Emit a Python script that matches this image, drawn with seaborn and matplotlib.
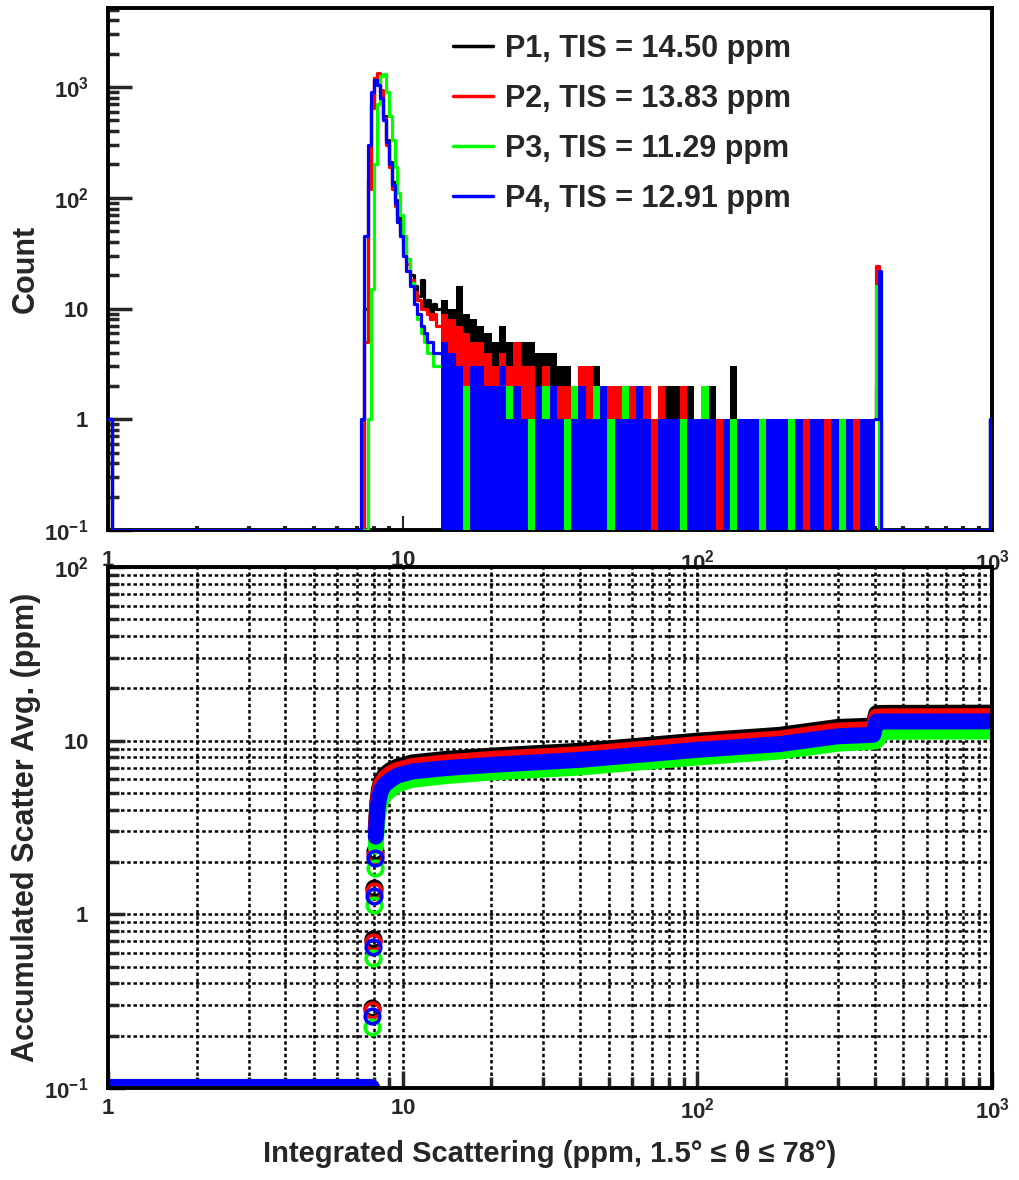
import numpy as np
import seaborn as sns
import matplotlib
matplotlib.use("Agg")
import matplotlib.pyplot as plt
from matplotlib.lines import Line2D
from matplotlib.ticker import FixedLocator, FuncFormatter, LogLocator, NullFormatter

sns.set_style("white")
plt.rcParams["font.family"] = ["Liberation Sans", "DejaVu Sans"]
plt.rcParams["font.weight"] = "bold"
plt.rcParams["mathtext.fontset"] = "custom"
plt.rcParams["mathtext.rm"] = "Liberation Sans:bold"
plt.rcParams["mathtext.bf"] = "Liberation Sans:bold"

# ---- data ----
names = ["P1", "P2", "P3", "P4"]
tis = [14.50, 13.83, 11.29, 12.91]
colors = ["#000000", "#ff0000", "#00ff00", "#0000ff"]

# top: counts per bin, peak region (bin edges in ppm)
peak_edges = [1.0, 1.03, 7.0, 7.2, 7.4, 7.6, 7.8, 8.0, 8.2, 8.4, 8.6, 8.8, 9.0, 9.2, 9.4,
              9.6, 9.8, 10.0, 10.3, 10.6, 10.9, 11.2, 11.5, 11.8, 12.1, 12.4, 12.7, 13.0, 13.5]
p1_peak = [1, 0, 0, 0, 10, 150, 700, 1200, 1300, 900, 550, 330, 210, 140, 95, 70, 50, 38,
           28, 20, 16, 13, 18, 10, 12, 9, 11, 10]
p2_peak = [1, 0, 0, 0, 5, 120, 650, 1200, 1350, 950, 520, 300, 190, 120, 85, 60, 45, 32,
           25, 18, 14, 12, 10, 10, 9, 8, 9, 7]
p3_peak = [1, 0, 0, 0, 0, 1, 15, 200, 700, 1250, 1300, 900, 550, 330, 190, 110, 70, 45,
           28, 17, 11, 8, 6, 5, 4, 4, 3, 3]
p4_peak = [1, 0, 0, 1, 45, 300, 900, 1150, 1050, 800, 500, 320, 200, 130, 90, 60, 45, 30,
           22, 16, 11, 9, 7, 6, 5, 5, 4, 4]

# top: sparse tail, 60 log-spaced bins from 13.5 to 400 ppm
tail_edges = np.geomspace(13.5, 400, 61)
p1_tail = [12, 10, 16, 9, 8, 7, 6, 5, 7, 5,
           4, 5, 5, 4, 4, 4, 3, 3, 2, 2,
           2, 3, 2, 2, 2, 2, 2, 2, 2, 1,
           2, 2, 2, 1, 2, 1, 2, 2, 1, 1,
           3, 1, 1, 1, 1, 1, 1, 1, 1, 1,
           1, 1, 1, 1, 1, 1, 1, 1, 1, 1]
p2_tail = [9, 8, 7, 6, 5, 5, 4, 3, 4, 3,
           5, 3, 3, 2, 3, 2, 2, 2, 2, 3,
           3, 2, 1, 2, 2, 1, 2, 2, 2, 1,
           2, 1, 1, 2, 1, 1, 1, 1, 1, 1,
           1, 1, 1, 1, 1, 1, 1, 1, 1, 1,
           1, 1, 1, 1, 1, 1, 1, 1, 1, 1]
p3_tail = [4, 3, 2, 2, 2, 2, 1, 2, 1, 2,
           1, 1, 1, 1, 2, 1, 1, 1, 2, 1,
           1, 2, 1, 1, 1, 2, 1, 1, 1, 0,
           1, 1, 1, 1, 1, 1, 2, 1, 0, 1,
           1, 1, 0, 1, 1, 1, 0, 1, 1, 1,
           0, 1, 1, 0, 1, 1, 1, 0, 1, 1]
p4_tail = [5, 4, 3, 0, 3, 3, 2, 2, 3, 1,
           2, 1, 0, 2, 1, 2, 1, 0, 1, 2,
           1, 1, 2, 0, 1, 1, 1, 2, 1, 0,
           1, 1, 1, 0, 1, 1, 1, 1, 0, 1,
           0, 1, 1, 1, 0, 1, 1, 1, 0, 1,
           0, 1, 1, 0, 1, 0, 1, 0, 1, 1]

# top: spike near 400 ppm and the overflow bin
end_edges = [400, 405, 412, 420, 985, 1000]
p1_end = [1, 2, 0, 0, 1]
p2_end = [1, 24, 1, 0, 1]
p3_end = [1, 16, 0, 0, 1]
p4_end = [1, 1, 22, 0, 1]

# bottom: accumulated scatter average (ppm)
acc_x = [7.85, 7.95, 8.0, 8.05, 8.1, 8.15, 8.2, 8.3, 8.45, 8.7, 9.1, 9.6, 10.8, 14, 20,
         40, 100, 190, 300, 395, 405, 430, 1000]
p1_acc = [0.29, 0.72, 1.42, 2.3, 3.1, 3.7, 4.4, 5.2, 5.9, 6.4, 6.8, 7.1, 7.5, 7.85, 8.2,
          8.75, 10.0, 10.8, 12.0, 12.2, 14.4, 14.45, 14.5]
p2_acc = [0.28, 0.69, 1.36, 2.2, 3.0, 3.55, 4.2, 5.0, 5.65, 6.1, 6.5, 6.8, 7.15, 7.5, 7.85,
          8.35, 9.55, 10.3, 11.45, 11.65, 13.75, 13.8, 13.83]
p3_acc = [0.225, 0.56, 1.13, 1.85, 2.45, 2.9, 3.4, 4.0, 4.5, 4.9, 5.2, 5.6, 5.95, 6.25, 6.55,
          7.0, 8.0, 8.65, 9.6, 9.85, 9.95, 11.25, 11.29]
p4_acc = [0.26, 0.65, 1.28, 2.1, 2.8, 3.3, 3.9, 4.6, 5.2, 5.6, 5.95, 6.3, 6.65, 6.95, 7.25,
          7.75, 8.85, 9.55, 10.6, 10.8, 12.85, 12.88, 12.91]
base_x = [1.0, 7.8]
base_acc = [0, 0]
n_knee = 4  # first points are separate circles

FLOOR = 0.1

fig = plt.figure(figsize=(10.2, 11.8), dpi=100)
ax1 = fig.add_axes([0.1059, 0.5508, 0.8667, 0.4424])
ax2 = fig.add_axes([0.1059, 0.0780, 0.8667, 0.4415])

# ---- top panel ----
hist = [(p1_peak, p1_tail, p1_end), (p2_peak, p2_tail, p2_end),
        (p3_peak, p3_tail, p3_end), (p4_peak, p4_tail, p4_end)]
for k, ((pk, tl, en), c) in enumerate(zip(hist, colors)):
    z = 2 + k
    y = np.maximum(np.append(pk, pk[-1]), FLOOR)
    sns.lineplot(x=peak_edges, y=y, drawstyle="steps-post", color=c, lw=2.3,
                 estimator=None, sort=False, ax=ax1, zorder=z)
    yt = np.maximum(np.append(tl, tl[-1]), FLOOR)
    ax1.fill_between(tail_edges, FLOOR, yt, step="post", color=c, lw=0, zorder=z)
    ye = np.maximum(np.append(en, en[-1]), FLOOR)
    sns.lineplot(x=end_edges, y=ye, drawstyle="steps-post", color=c, lw=2.3,
                 estimator=None, sort=False, ax=ax1, zorder=z)

handles = [Line2D([], [], color=c, lw=2.5) for c in colors]
labels = [f"{n}, TIS = {t:.2f} ppm" for n, t in zip(names, tis)]
ax1.legend(handles, labels, loc="upper left", bbox_to_anchor=(0.39, 0.95),
           frameon=False, prop={"weight": "bold", "size": 22}, handlelength=1.3,
           handletextpad=0.4, labelspacing=0.65, borderaxespad=0, borderpad=0)

# ---- bottom panel ----
accs = [p1_acc, p2_acc, p3_acc, p4_acc]
for k, (acc, c) in enumerate(zip(accs, colors)):
    z = 3 + k
    sns.lineplot(x=base_x, y=np.maximum(base_acc, FLOOR), color=c, lw=13,
                 estimator=None, ax=ax2, zorder=z)
    sns.lineplot(x=acc_x[n_knee:], y=acc[n_knee:], color=c, lw=11.5,
                 solid_capstyle="round", estimator=None, ax=ax2, zorder=z)
    sns.lineplot(x=acc_x[:n_knee], y=acc[:n_knee], color=c, linestyle="",
                 marker="o", ms=10.5, mfc="none", mec=c, mew=2.6,
                 estimator=None, ax=ax2, zorder=z)


def dec(v, pos):
    e = int(round(np.log10(v)))
    if e == 0:
        return r"$\mathbf{1}$"
    if e == 1:
        return r"$\mathbf{10}$"
    return r"$\mathbf{10^{%d}}$" % e


for ax in (ax1, ax2):
    ax.set_xscale("log")
    ax.set_yscale("log")
    ax.set_xlim(1, 1000)
    ax.xaxis.set_major_locator(FixedLocator([1, 10, 100, 1000]))
    ax.xaxis.set_minor_locator(LogLocator(base=10, subs=np.arange(2, 10), numticks=20))
    ax.yaxis.set_minor_locator(LogLocator(base=10, subs=np.arange(2, 10), numticks=20))
    ax.xaxis.set_major_formatter(FuncFormatter(dec))
    ax.yaxis.set_major_formatter(FuncFormatter(dec))
    ax.xaxis.set_minor_formatter(NullFormatter())
    ax.yaxis.set_minor_formatter(NullFormatter())
    for sp in ax.spines.values():
        sp.set_linewidth(2.8)
        sp.set_color("black")

ax1.set_ylim(FLOOR, 5170)
ax1.yaxis.set_major_locator(FixedLocator([0.1, 1, 10, 100, 1000]))
ax1.tick_params(axis="y", which="major", direction="in", length=17, width=2.5,
                labelsize=16, pad=14, left=True, right=False)
ax1.tick_params(axis="y", which="minor", direction="in", length=8, width=2.5,
                left=True, right=False)
ax1.tick_params(axis="x", which="major", direction="in", length=10, width=1.5,
                labelsize=16, pad=14, bottom=True, top=False)
ax1.tick_params(axis="x", which="minor", direction="in", length=3, width=3,
                bottom=True, top=False)
ax1.set_ylabel("Count", fontsize=22, fontweight="bold")
ax1.yaxis.set_label_coords(-0.076, 0.5)
ax1.set_xlabel("")

ax2.set_ylim(FLOOR, 100)
ax2.yaxis.set_major_locator(FixedLocator([0.1, 1, 10, 100]))
ax2.set_axisbelow(True)
ax2.grid(True, which="both", color="black", linestyle=(0, (1.4, 1.1)), linewidth=1.8)
ax2.tick_params(axis="both", which="major", direction="in", length=12, width=2.5,
                labelsize=16, bottom=True, left=True, top=False, right=False)
ax2.tick_params(axis="both", which="minor", direction="in", length=8, width=2.5,
                bottom=True, left=True, top=False, right=False)
ax2.tick_params(axis="y", which="major", pad=14)
ax2.tick_params(axis="x", which="major", pad=7)
for sp in ax2.spines.values():
    sp.set_zorder(10)
ax2.set_ylabel("Accumulated Scatter Avg. (ppm)", fontsize=22, fontweight="bold")
ax2.yaxis.set_label_coords(-0.076, 0.5)
ax2.set_xlabel("Integrated Scattering (ppm, 1.5° ≤ θ ≤ 78°)", fontsize=21,
               fontweight="bold")
ax2.xaxis.set_label_coords(0.5, -0.1)

fig.savefig("out.png", dpi=100)
